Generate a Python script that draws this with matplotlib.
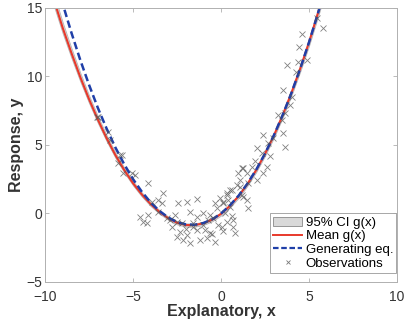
import numpy as np
import matplotlib
matplotlib.use("Agg")
import matplotlib.pyplot as plt
from matplotlib.patches import Patch
from matplotlib.lines import Line2D

plt.rcParams['font.family'] = ['Liberation Sans', 'DejaVu Sans']

# curve samples
x_grid = [-9.5, -9.0, -8.5, -8.0, -7.5, -7.0, -6.5, -6.0, -5.5, -5.0, -4.5, -4.0,
          -3.5, -3.0, -2.5, -2.0, -1.5, -1.0, -0.5, 0.0, 0.5, 1.0, 1.5, 2.0,
          2.5, 3.0, 3.5, 4.0, 4.5, 5.0, 5.5, 6.0]
mean_g = [15.6, 13.55, 11.7, 9.95, 8.33, 6.85, 5.48, 4.25, 3.16, 2.2, 1.38, 0.68,
          0.11, -0.35, -0.68, -0.85, -0.85, -0.72, -0.45, -0.03, 0.55, 1.27, 2.15, 3.17,
          4.36, 5.68, 7.17, 8.8, 10.58, 12.5, 14.6, 16.8]
ci_half = [0.45, 0.4, 0.36, 0.32, 0.28, 0.25, 0.22, 0.2, 0.18, 0.16, 0.15, 0.14,
           0.13, 0.12, 0.12, 0.12, 0.12, 0.12, 0.12, 0.12, 0.12, 0.13, 0.13, 0.14,
           0.15, 0.16, 0.18, 0.2, 0.22, 0.25, 0.28, 0.32]
gen_eq = [17.58, 15.3, 13.18, 11.2, 9.38, 7.7, 6.18, 4.8, 3.58, 2.5, 1.58, 0.8,
          0.18, -0.3, -0.63, -0.8, -0.83, -0.7, -0.43, 0.0, 0.58, 1.3, 2.18, 3.2,
          4.38, 5.7, 7.18, 8.8, 10.58, 12.5, 14.58, 16.8]

obs_x = [-7.06, -6.97, -6.4, -6.31, -5.74, -5.64, -5.84, -5.07, -5.55, -4.89,
         -4.13, -3.28, -3.94, -3.37, -4.6, -4.13, -4.41, -3.56, -4.22, -2.43,
         -1.91, -1.35, -2.61, -1.76, -2.8, -2.33, -2.14, -1.91, -1.38, -1.19,
         -0.81, -0.63, -0.34, -1.0, -0.63, -0.24, -0.34, -0.06, 0.23, 0.32,
         0.7, 0.8, 0.7, 0.51, 0.32, 0.6, 0.89, 1.08, 1.27, 1.18,
         1.46, 1.55, -3.09, -2.52, -2.23, -1.57, -1.76, -2.52, -0.15, 0.04,
         -0.44, -0.72, -1.0, -1.38, 0.13, 0.42, 4.59, 5.81, 4.45, 3.73,
         4.39, 4.87, 4.26, 3.54, 4.02, 3.26, 3.45, 2.4, 3.54, 3.64,
         2.97, 2.03, 2.31, 2.6, 2.4, 1.74, 1.27, 0.98, 2.03, 1.55,
         1.08, 0.51, 0.32, 0.13, 1.18, 1.46, 5.44, 3.64, 2.69, -3.56,
         -2.9, -1.6, -0.9, -0.5, 0.1, 0.6, 1.9, 2.8, 3.9, -2.0]
obs_y = [7.07, 7.07, 5.97, 5.36, 4.27, 4.27, 3.66, 2.93, 2.93, 2.81,
         2.2, 1.47, 0.86, 0.79, -0.23, -0.11, -0.6, 0.13, -0.67, 0.74,
         0.86, 1.04, -0.11, 0.13, -0.96, -1.33, -1.93, -1.57, -1.2, -1.93,
         -1.81, -1.45, -2.06, -0.84, -0.11, 0.38, 0.74, 1.11, 0.0, -0.6,
         -0.96, -1.45, -0.47, 0.5, 1.47, 1.72, 2.08, 2.45, 1.23, 3.3,
         2.93, 0.38, -0.34, -0.6, -0.72, -0.72, -2.18, -1.69, -0.84, -0.96,
         -0.35, -0.47, 0.0, -0.23, 0.74, 0.99, 13.1, 13.52, 12.18, 10.84,
         11.08, 11.2, 10.35, 9.01, 8.53, 7.19, 6.82, 5.73, 5.85, 4.88,
         5.49, 4.76, 4.39, 3.42, 2.93, 3.42, 3.3, 2.93, 2.45, 2.2,
         1.96, 1.72, 1.35, 0.86, 1.35, 0.99, 14.25, 7.31, 5.12, 1.0,
         -0.5, -1.0, -1.2, -1.5, -1.3, -0.2, 3.8, 4.2, 7.9, -1.1]

xg = np.array(x_grid)
mg = np.array(mean_g)
hw = np.array(ci_half)

fig = plt.figure(figsize=(4.06, 3.29), dpi=100)
ax = fig.add_axes([0.111, 0.143, 0.867, 0.833])

ax.fill_between(xg, mg - hw, mg + hw, facecolor='#d9d9d9', edgecolor='#b5b5b5', lw=0.6)
ax.plot(xg, mg, color='#e8392b', lw=1.5)
ax.plot(xg, gen_eq, color='#1f3fa8', lw=1.8, ls=(0, (3, 1.5)))
ax.plot(obs_x, obs_y, ls='none', marker='x', ms=4, mew=0.6, color='#555555', alpha=0.75)

ax.set_xlim(-10, 10)
ax.set_ylim(-5, 15)
ax.set_xticks([-10, -5, 0, 5, 10])
ax.set_yticks([-5, 0, 5, 10, 15])
ax.tick_params(direction='in', top=True, right=True, length=3, width=0.6,
               colors='#b0b0b0', labelcolor='#333333', labelsize=10, pad=2)
ax.tick_params(axis='x', pad=6)
for s in ax.spines.values():
    s.set_color('#b0b0b0')
    s.set_linewidth(0.7)

ax.set_xlabel('Explanatory, x', fontsize=11.5, fontweight='bold', color='#333333', labelpad=0)
ax.set_ylabel('Response, y', fontsize=11.5, fontweight='bold', color='#333333', labelpad=2)

handles = [Patch(facecolor='#d9d9d9', edgecolor='#888888', lw=0.6),
           Line2D([], [], color='#e8392b', lw=1.4),
           Line2D([], [], color='#1f3fa8', lw=1.6, ls=(0, (2.5, 1.2))),
           Line2D([], [], ls='none', marker='x', ms=3.5, mew=0.6, color='#777777')]
labels = ['95% CI g(x)', 'Mean g(x)', 'Generating eq.', 'Observations']
leg = ax.legend(handles, labels, loc='lower right', bbox_to_anchor=(0.998, 0.033),
                fontsize=9.5, frameon=True, fancybox=False, framealpha=1,
                edgecolor='#999999', handlelength=2.2, handletextpad=0.25,
                borderpad=0.25, labelspacing=0.1, borderaxespad=0)
leg.get_frame().set_linewidth(0.6)

fig.savefig('out.png', dpi=100)
